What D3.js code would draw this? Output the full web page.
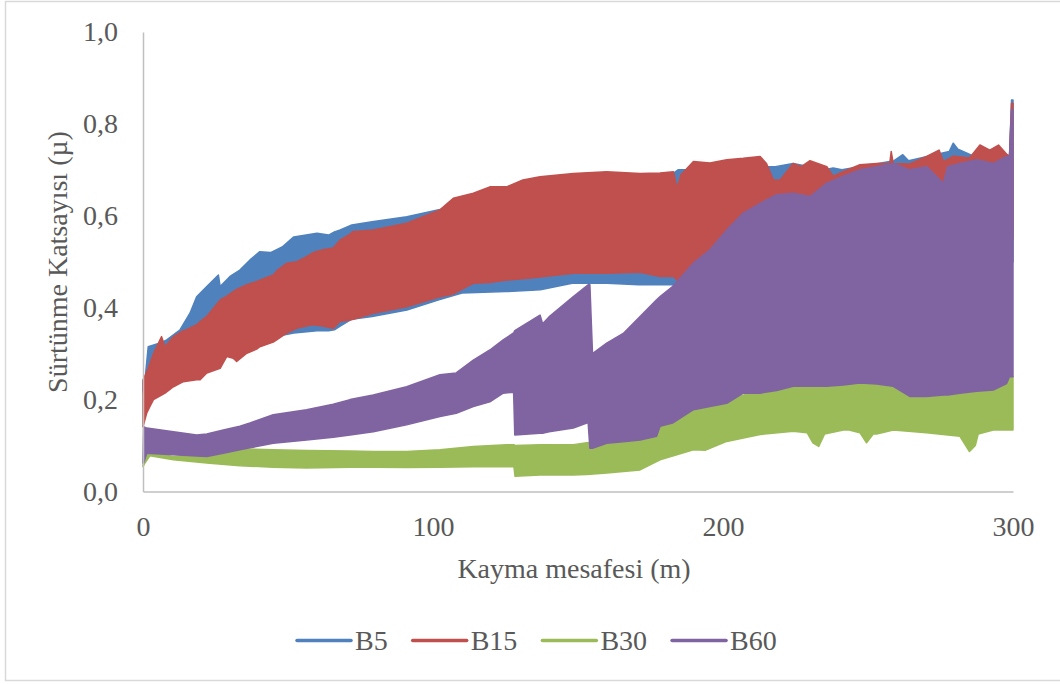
<!DOCTYPE html>
<html>
<head>
<meta charset="utf-8">
<script src="https://cdn.jsdelivr.net/npm/d3@7"></script>
<style>
  body { margin: 0; background: #fff; }
  text { font-family: 'Liberation Serif', 'Times New Roman', serif; fill: #595959; }
</style>
</head>
<body>
<script>
(function (d3) {
  'use strict';

  // each row: [distance (m), lower edge, upper edge] of the noisy band
  const b5 = [
    [0, 0.22, 0.24], [0.7, 0.2, 0.243], [1.8, 0.22, 0.315], [5.9, 0.24, 0.323],
    [8.2, 0.25, 0.33], [12.8, 0.27, 0.352], [16.2, 0.28, 0.388], [18.5, 0.29, 0.424],
    [22, 0.3, 0.446], [26, 0.31, 0.471], [26.6, 0.31, 0.446], [30, 0.32, 0.468],
    [33.4, 0.32, 0.482], [36.9, 0.32, 0.504], [40.3, 0.33, 0.522], [44, 0.33, 0.52],
    [48, 0.34, 0.532], [52, 0.345, 0.554], [60, 0.35, 0.562], [64, 0.35, 0.558],
    [66, 0.352, 0.565], [68, 0.36, 0.569], [72, 0.375, 0.58], [79, 0.381, 0.587],
    [91, 0.395, 0.598], [102, 0.417, 0.613], [110, 0.432, 0.62], [125, 0.435, 0.65],
    [137, 0.439, 0.675], [148, 0.453, 0.68], [160, 0.453, 0.685], [171, 0.45, 0.685],
    [178.3, 0.45, 0.69], [183, 0.45, 0.693], [184.5, 0.43, 0.7], [192, 0.44, 0.7],
    [212, 0.46, 0.7], [214, 0.46, 0.707], [218, 0.46, 0.707], [224.2, 0.46, 0.714],
    [235, 0.46, 0.7], [238, 0.46, 0.704], [241, 0.46, 0.7], [259, 0.46, 0.72],
    [262, 0.46, 0.733], [264, 0.46, 0.72], [278, 0.46, 0.74], [279.4, 0.46, 0.758],
    [281, 0.46, 0.745], [290, 0.46, 0.72], [298.8, 0.46, 0.73], [299.5, 0.5, 0.852],
    [300, 0.5, 0.852]
  ];

  const b15 = [
    [0, 0.141, 0.243], [1.3, 0.171, 0.26], [2.4, 0.185, 0.279], [3.6, 0.2, 0.3],
    [6.4, 0.21, 0.337], [7.6, 0.214, 0.315], [10.5, 0.228, 0.337], [13.9, 0.239, 0.35],
    [15, 0.24, 0.352], [18.5, 0.243, 0.363], [19.7, 0.243, 0.37], [22, 0.258, 0.381],
    [26.6, 0.268, 0.417], [28.9, 0.294, 0.425], [31.1, 0.29, 0.435], [32.3, 0.283, 0.44],
    [35.8, 0.301, 0.45], [39.2, 0.31, 0.457], [40.3, 0.315, 0.46], [44.9, 0.325, 0.471],
    [46.1, 0.33, 0.48], [49.6, 0.345, 0.497], [53, 0.355, 0.5], [56.4, 0.36, 0.511],
    [58.7, 0.363, 0.52], [62, 0.36, 0.526], [65.6, 0.355, 0.53], [67.9, 0.37, 0.547],
    [71.4, 0.373, 0.56], [72.5, 0.375, 0.566], [79.4, 0.388, 0.569], [90.9, 0.402, 0.584],
    [102.4, 0.424, 0.613], [107, 0.43, 0.638], [113.9, 0.453, 0.649], [119.6, 0.455, 0.663],
    [125.4, 0.46, 0.663], [131, 0.463, 0.678], [136.9, 0.467, 0.685], [148.4, 0.475, 0.692],
    [159.9, 0.475, 0.696], [171.4, 0.477, 0.692], [178.3, 0.468, 0.693], [182.9, 0.468, 0.696],
    [184.2, 0.46, 0.66], [185.5, 0.446, 0.69], [186.5, 0.45, 0.696], [189.8, 0.45, 0.718],
    [195.5, 0.45, 0.715], [201.3, 0.45, 0.722], [207, 0.45, 0.725], [212.8, 0.45, 0.729],
    [215, 0.45, 0.714], [217.4, 0.45, 0.678], [219.7, 0.45, 0.678], [224.2, 0.45, 0.714],
    [227, 0.45, 0.707], [230, 0.45, 0.72], [235.8, 0.45, 0.707], [238, 0.45, 0.686],
    [241, 0.45, 0.695], [247.2, 0.45, 0.711], [253, 0.45, 0.714], [257.5, 0.45, 0.714],
    [258, 0.45, 0.74], [258.7, 0.45, 0.714], [264.4, 0.45, 0.713], [270.2, 0.45, 0.729],
    [274.5, 0.45, 0.743], [276, 0.45, 0.718], [279.4, 0.45, 0.73], [285, 0.45, 0.726],
    [288.6, 0.45, 0.754], [292, 0.45, 0.743], [295, 0.45, 0.754], [298, 0.45, 0.733],
    [298.8, 0.45, 0.73], [299.5, 0.55, 0.845], [300, 0.55, 0.845]
  ];

  const b30 = [
    [0, 0.054, 0.058], [0.5, 0.06, 0.08], [2.4, 0.078, 0.085], [10.5, 0.069, 0.076],
    [22, 0.062, 0.083], [33.4, 0.056, 0.093], [44.9, 0.053, 0.091], [56.4, 0.051, 0.089],
    [71.4, 0.053, 0.088], [79.4, 0.053, 0.087], [90.9, 0.052, 0.087], [102.4, 0.053, 0.091],
    [113.9, 0.054, 0.098], [125.4, 0.054, 0.102], [127.9, 0.054, 0.102], [128.3, 0.033, 0.1],
    [136.9, 0.036, 0.102], [148.4, 0.036, 0.102], [153, 0.037, 0.106], [159.9, 0.04, 0.109],
    [171.4, 0.047, 0.12], [178.3, 0.069, 0.15], [189.8, 0.091, 0.18], [194, 0.09, 0.2],
    [201.3, 0.109, 0.2], [212.8, 0.124, 0.22], [224.2, 0.131, 0.235], [229, 0.128, 0.235],
    [231, 0.106, 0.24], [233, 0.098, 0.24], [235, 0.125, 0.24], [241.5, 0.134, 0.245],
    [242.6, 0.134, 0.279], [243.5, 0.134, 0.245], [247.2, 0.128, 0.25], [249.5, 0.106, 0.25],
    [251.8, 0.125, 0.287], [253, 0.125, 0.25], [258.7, 0.134, 0.25], [270.2, 0.128, 0.235],
    [281.7, 0.12, 0.235], [285, 0.087, 0.235], [287, 0.1, 0.235], [288, 0.125, 0.235],
    [293.2, 0.134, 0.24], [299, 0.134, 0.26], [300, 0.134, 0.25]
  ];

  const b60 = [
    [0, 0.062, 0.07], [0.2, 0.062, 0.141], [1.3, 0.083, 0.138], [10.5, 0.08, 0.13],
    [18.5, 0.077, 0.123], [22, 0.076, 0.125], [27.7, 0.083, 0.134], [33.4, 0.091, 0.142],
    [36.9, 0.095, 0.149], [44.9, 0.105, 0.167], [56.4, 0.112, 0.178], [65.6, 0.118, 0.19],
    [71.4, 0.123, 0.2], [79.4, 0.13, 0.21], [90.9, 0.145, 0.228], [102.4, 0.163, 0.254],
    [108, 0.17, 0.258], [113.9, 0.185, 0.286], [119.6, 0.195, 0.308], [124.2, 0.214, 0.33],
    [127.8, 0.216, 0.345], [128.2, 0.123, 0.35], [136.9, 0.127, 0.384], [137.8, 0.127, 0.365],
    [140, 0.13, 0.38], [148.4, 0.138, 0.424], [153.5, 0.15, 0.45], [154.1, 0.094, 0.45],
    [155, 0.094, 0.3], [159.9, 0.105, 0.323], [165.6, 0.108, 0.344], [171.4, 0.112, 0.381],
    [177.1, 0.12, 0.417], [178.3, 0.142, 0.424], [182.6, 0.149, 0.446], [189.8, 0.178, 0.497],
    [195.5, 0.185, 0.526], [201.3, 0.192, 0.569], [207, 0.214, 0.606], [212.8, 0.214, 0.627],
    [218.5, 0.22, 0.646], [224.2, 0.229, 0.649], [230, 0.229, 0.642], [235.8, 0.229, 0.671],
    [241.5, 0.232, 0.686], [247.2, 0.236, 0.7], [253, 0.234, 0.707], [258.7, 0.229, 0.714],
    [264.4, 0.207, 0.7], [270.2, 0.207, 0.707], [276, 0.21, 0.671], [277.5, 0.21, 0.707],
    [281.7, 0.214, 0.714], [287.5, 0.218, 0.722], [293.2, 0.221, 0.714], [297.8, 0.235, 0.729],
    [298.8, 0.25, 0.729], [299.5, 0.25, 0.83], [300, 0.25, 0.83]
  ];

  const seriesNames = ['B5', 'B15', 'B30', 'B60'];
  const seriesData = [b5, b15, b30, b60];
  const colors = ['#4F81BD', '#C0504D', '#9BBB59', '#8064A2'];
  const xTicks = [0, 100, 200, 300];
  const yTicks = [0, 0.2, 0.4, 0.6, 0.8, 1.0];

  const width = 1060;
  const height = 684;
  const margin = { top: 32, right: 47, bottom: 192.5, left: 143 };

  const svg = d3.select('body')
    .append('svg')
    .attr('width', width)
    .attr('height', height);

  // chart border
  svg.append('rect')
    .attr('x', 5.5)
    .attr('y', 1.5)
    .attr('width', width + 10)
    .attr('height', 679)
    .attr('fill', '#fff')
    .attr('stroke', '#d9d9d9')
    .attr('stroke-width', 1.5);

  const x = d3.scaleLinear()
    .domain([0, 300])
    .range([margin.left, width - margin.right]);

  const y = d3.scaleLinear()
    .domain([0, 1])
    .range([height - margin.bottom, margin.top]);

  const locale = d3.formatLocale({ decimal: ',', thousands: '.', grouping: [3], currency: ['', ''] });
  const yFormat = locale.format('.1f');

  const band = d3.area()
    .x((d) => x(d[0]))
    .y0((d) => y(d[1]))
    .y1((d) => y(d[2]));

  svg.append('g')
    .selectAll('path')
    .data(seriesData)
    .join('path')
    .attr('d', band)
    .attr('fill', (d, i) => colors[i])
    .attr('stroke', (d, i) => colors[i])
    .attr('stroke-width', 1.5)
    .attr('stroke-linejoin', 'round');

  const yAxis = svg.append('g')
    .attr('transform', `translate(${margin.left},0)`)
    .call(d3.axisLeft(y).tickValues(yTicks).tickFormat(yFormat).tickSize(0).tickPadding(25));

  const xAxis = svg.append('g')
    .attr('transform', `translate(0,${height - margin.bottom})`)
    .call(d3.axisBottom(x).tickValues(xTicks).tickSize(0).tickPadding(25));

  [xAxis, yAxis].forEach((g) => {
    g.select('.domain').attr('stroke', '#bfbfbf').attr('stroke-width', 1.5);
    g.selectAll('text')
      .attr('fill', '#595959')
      .style('font-family', "'Liberation Serif', serif")
      .style('font-size', '28px');
  });

  // axis titles
  svg.append('text')
    .attr('x', 574)
    .attr('y', 578)
    .attr('text-anchor', 'middle')
    .style('font-size', '28px')
    .text('Kayma mesafesi (m)');

  svg.append('text')
    .attr('transform', 'translate(67,262) rotate(-90)')
    .attr('text-anchor', 'middle')
    .style('font-size', '28px')
    .text('Sürtünme Katsayısı (µ)');

  // legend
  const legend = svg.append('g');
  let cursor = 297;
  seriesNames.forEach((name, i) => {
    legend.append('line')
      .attr('x1', cursor)
      .attr('x2', cursor + 54)
      .attr('y1', 640.5)
      .attr('y2', 640.5)
      .attr('stroke', colors[i])
      .attr('stroke-width', 3.5)
      .attr('stroke-linecap', 'round');
    const label = legend.append('text')
      .attr('x', cursor + 58)
      .attr('y', 650)
      .style('font-size', '28px')
      .text(name);
    cursor += 58 + label.node().getComputedTextLength() + 25;
  });

})(d3);
</script>
</body>
</html>
